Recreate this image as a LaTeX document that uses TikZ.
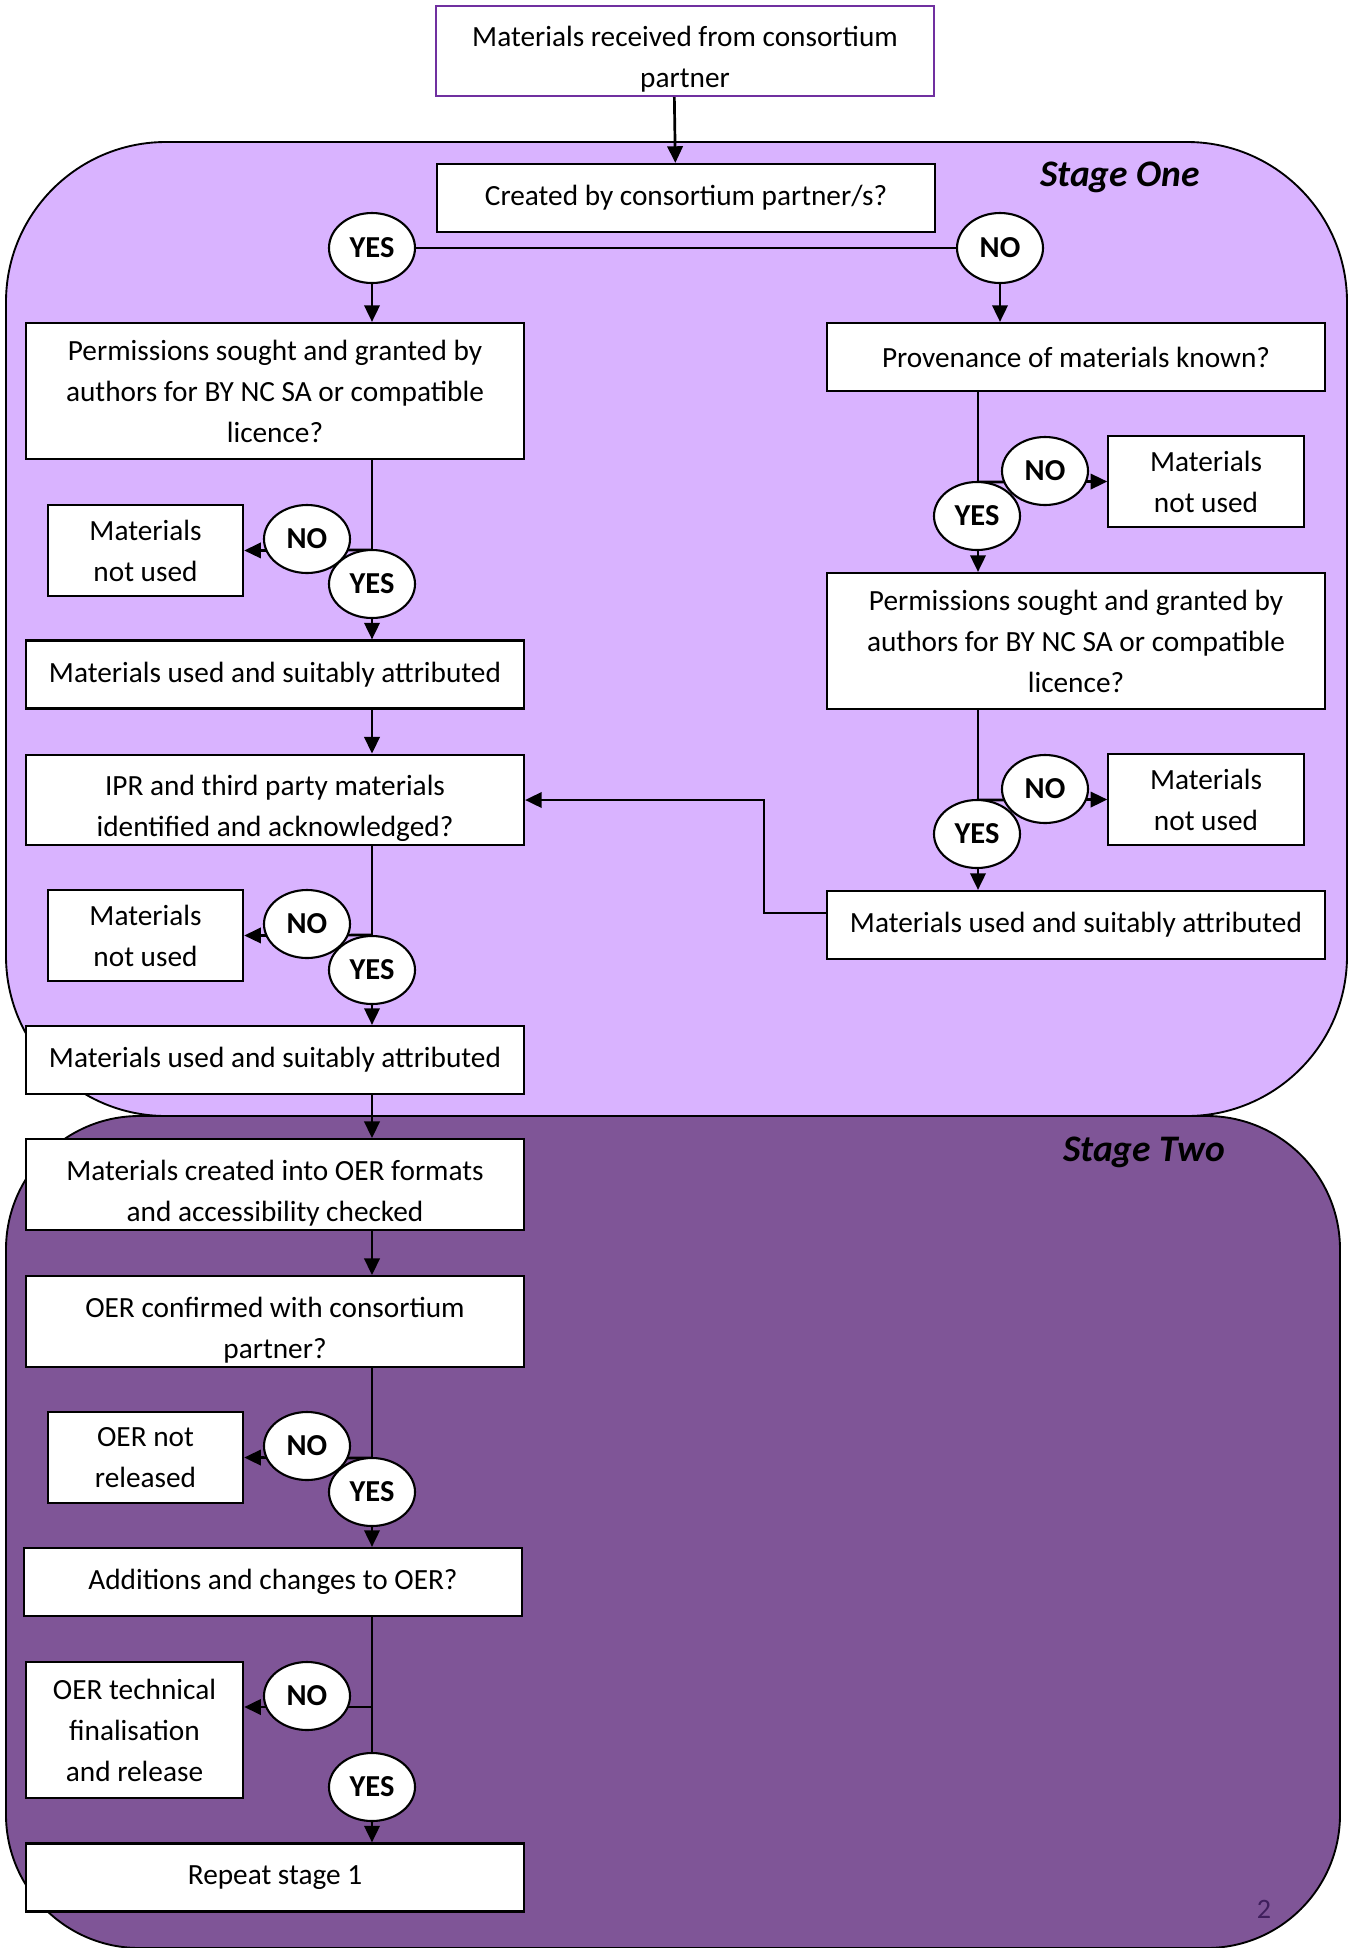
\documentclass[tikz,border=0pt]{standalone}
\usepackage{fontspec}
\setmainfont{Carlito}
\usetikzlibrary{arrows.meta,shapes.geometric}
\definecolor{stageone}{HTML}{D9B3FF}
\definecolor{stagetwo}{HTML}{7F5597}
\definecolor{topline}{HTML}{7030A0}
\definecolor{pagenum}{HTML}{3F1F5C}
\newcommand{\lowtop}{\rule{0pt}{16pt}}

\begin{document}
\begin{tikzpicture}[x=0.015cm,y=-0.015cm,
  box/.style={draw,line width=0.9pt,fill=white,inner sep=0pt,align=center,minimum width=7.47cm,minimum height=#1,font=\fontsize{12.5}{17.5}\selectfont},
  box/.default=1.02cm,
  smallbox/.style={box=1.36cm,minimum width=2.93cm},
  yn/.style={draw,line width=0.9pt,fill=white,ellipse,inner sep=0pt,minimum width=1.29cm,minimum height=1.02cm,font=\fontsize{13}{15}\selectfont\bfseries},
  arr/.style={line width=1.15pt,-{Triangle[length=2.5mm,width=2.3mm]}},
  ln/.style={line width=1.15pt},
  stage/.style={draw,line width=0.8pt},
  stagetitle/.style={font=\fontsize{16}{18}\selectfont\bfseries\itshape}]
\useasboundingbox (0,0) rectangle (1356,1948);

\draw[stage,fill=stagetwo,rounded corners=2cm] (6,1116) rectangle (1340,1948);
\draw[stage,fill=stageone,rounded corners=2.4cm] (6,142) rectangle (1347,1116);
\node[stagetitle] (t1) at (1120,177) {Stage One};
\node[stagetitle] (t2) at (1144,1152) {Stage Two};
\node[font=\fontsize{12}{14}\selectfont,text=pagenum] (pg) at (1264,1909) {2};

\node[box=1.35cm,draw=topline] (recv) at (685,51) {\lowtop Materials received from consortium\\partner};
\node[box] (made) at (686,198) {Created by consortium partner/s?};
\draw[arr] ([xshift=-0.16cm]recv.south) -- ([xshift=-0.16cm]made.north);
\node[yn,minimum height=1.05cm] (y0) at (372,248) {YES}; \node[yn,minimum height=1.05cm] (n0) at (1000,248) {NO};
\draw[ln] (y0) -- (n0);
\node[box=2.04cm] (permL) at (275,391) {Permissions sought and granted by\\authors for BY NC SA or compatible\\licence?};
\node[box] (prov) at (1076,357) {Provenance of materials known?};
\draw[arr] (y0) -- (y0 |- permL.north); \draw[arr] (n0) -- (n0 |- prov.north);

\node[smallbox] (notL1) at (145.5,550.5) {Materials\\not used};
\node[box] (usedL1) at (275,674.5) {Materials used and suitably attributed};
\node[box=1.36cm] (ipr) at (275,800) {\lowtop IPR and third party materials\\identified and acknowledged?};
\node[smallbox] (notL2) at (145.5,935.5) {Materials\\not used};
\node[box] (usedL2) at (275,1060) {Materials used and suitably attributed};
\coordinate (jL1) at (372,550); \coordinate (jL2) at (372,935);
\draw[arr] (permL.south -| jL1) -- (usedL1.north -| jL1); \draw[arr] (jL1) -- (notL1.east);
\draw[arr] (usedL1.south -| jL1) -- (ipr.north -| jL1);
\draw[arr] (ipr.south -| jL2) -- (usedL2.north -| jL2); \draw[arr] (jL2) -- (notL2.east);
\node[yn] (yL1) at (372,584) {YES}; \node[yn] (nL1) at (307,539) {NO};
\node[yn] (yL2) at (372,970) {YES}; \node[yn] (nL2) at (307,924) {NO};

\node[smallbox] (notR1) at (1206,481.5) {Materials\\not used};
\node[box=2.04cm] (permR) at (1076,641) {Permissions sought and granted by\\authors for BY NC SA or compatible\\licence?};
\node[smallbox] (notR2) at (1206,799.5) {Materials\\not used};
\node[box] (usedR) at (1076,925) {Materials used and suitably attributed};
\coordinate (jR1) at (978,482); \coordinate (jR2) at (978,800);
\draw[arr] (prov.south -| jR1) -- (permR.north -| jR1); \draw[arr] (jR1) -- (notR1.west);
\draw[arr] (permR.south -| jR2) -- (usedR.north -| jR2); \draw[arr] (jR2) -- (notR2.west);
\draw[arr] ([yshift=0.18cm]usedR.west) -| ([xshift=3.585cm]ipr.east) -- (ipr.east);
\node[yn] (yR1) at (977,516) {YES}; \node[yn] (nR1) at (1045,471) {NO};
\node[yn] (yR2) at (977,834) {YES}; \node[yn] (nR2) at (1045,789) {NO};

\node[box=1.36cm] (oer) at (275,1184.5) {\lowtop Materials created into OER formats\\and accessibility checked};
\node[box=1.36cm] (conf) at (275,1321.5) {\lowtop OER confirmed with consortium\\partner?};
\node[smallbox] (norel) at (145.5,1457.5) {OER not\\released};
\node[box] (addch) at (273,1582) {Additions and changes to OER?};
\node[smallbox,minimum width=3.26cm,minimum height=2.04cm] (final) at (134.5,1730) {OER technical\\finalisation\\and release};
\node[box] (again) at (275,1877.5) {Repeat stage 1};
\coordinate (jS1) at (372,1458); \coordinate (jS2) at (372,1707);
\draw[arr] (usedL2.south -| jS1) -- (oer.north -| jS1); \draw[arr] (oer.south -| jS1) -- (conf.north -| jS1);
\draw[arr] (conf.south -| jS1) -- (addch.north -| jS1); \draw[arr] (jS1) -- (norel.east);
\draw[arr] (addch.south -| jS2) -- (again.north -| jS2); \draw[arr] (jS2) -- (jS2 -| final.east);
\node[yn] (yS1) at (372,1492) {YES}; \node[yn] (nS1) at (307,1446) {NO};
\node[yn] (yS2) at (372,1787) {YES}; \node[yn] (nS2) at (307,1696) {NO};
\end{tikzpicture}
\end{document}
